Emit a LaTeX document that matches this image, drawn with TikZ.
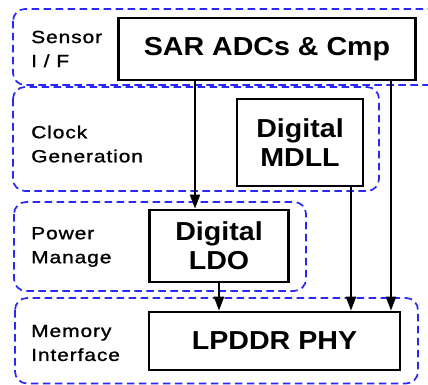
\documentclass[tikz,border=0pt]{standalone}
\usepackage{fontspec}
\usetikzlibrary{arrows.meta}
\newfontfamily\boxfont[FakeStretch=1.1]{Liberation Sans}
\newfontfamily\labfont[FakeStretch=1.2,LetterSpace=5,FakeBold=1.2]{Liberation Sans}
\definecolor{regionblue}{RGB}{40,40,250}
\tikzset{
  region/.style={draw=regionblue, line width=1.7pt, dash pattern=on 7.5pt off 4.5pt, rounded corners=12pt},
  block/.style={draw=black, line width=2.8pt, fill=white, inner sep=0pt, align=center,
    font=\boxfont\bfseries\fontsize{26}{29}\selectfont},
  lab/.style={anchor=west, align=left, inner sep=0pt,
    font=\labfont\fontsize{17.5}{24}\selectfont},
  flow/.style={draw=black, line width=2pt, -{Triangle[length=14pt,width=10pt]}}
}
\begin{document}
\begin{tikzpicture}[x=1pt, y=-1pt]
  \useasboundingbox (0,0) rectangle (428,385);
  \clip (0,0) rectangle (428,385);
  \fill[white] (0,0) rectangle (428,385);

  % functional domains
  \draw[region] (13,9) rectangle (450,85);
  \draw[region] (13,87) rectangle (379,191);
  \draw[region] (14,202) rectangle (306,291);
  \draw[region] (15,298) rectangle (418,383.5);

  % domain names
  \node[lab] (lsensor) at (31,49) {Sensor\\I / F};
  \node[lab] (lclock)  at (31,144) {Clock\\Generation};
  \node[lab] (lpower)  at (31,247) {Power\\Manage};
  \node[lab] (lmem)    at (31,343) {Memory\\Interface};

  % circuit blocks
  \node[block, minimum width=297pt, minimum height=62pt] (sar) at (267,49) {SAR ADCs \& Cmp};
  \node[block, minimum width=126pt, minimum height=87pt] (mdll) at (300,142.5) {Digital\\MDLL};
  \node[block, minimum width=139pt, minimum height=72pt] (ldo) at (219,246) {Digital\\LDO};
  \node[block, minimum width=251pt, minimum height=58pt] (phy) at (274.5,341) {LPDDR PHY};

  % connector columns
  \coordinate (c1) at (195,0);
  \coordinate (c2) at (219,0);
  \coordinate (c3) at (351,0);
  \coordinate (c4) at (391,0);

  \draw[flow] (sar.south -| c1) -- (ldo.north -| c1);
  \draw[flow] (ldo.south -| c2) -- (phy.north -| c2);
  \draw[flow] (mdll.south -| c3) -- (phy.north -| c3);
  \draw[flow] (sar.south -| c4) -- (phy.north -| c4);
\end{tikzpicture}
\end{document}
